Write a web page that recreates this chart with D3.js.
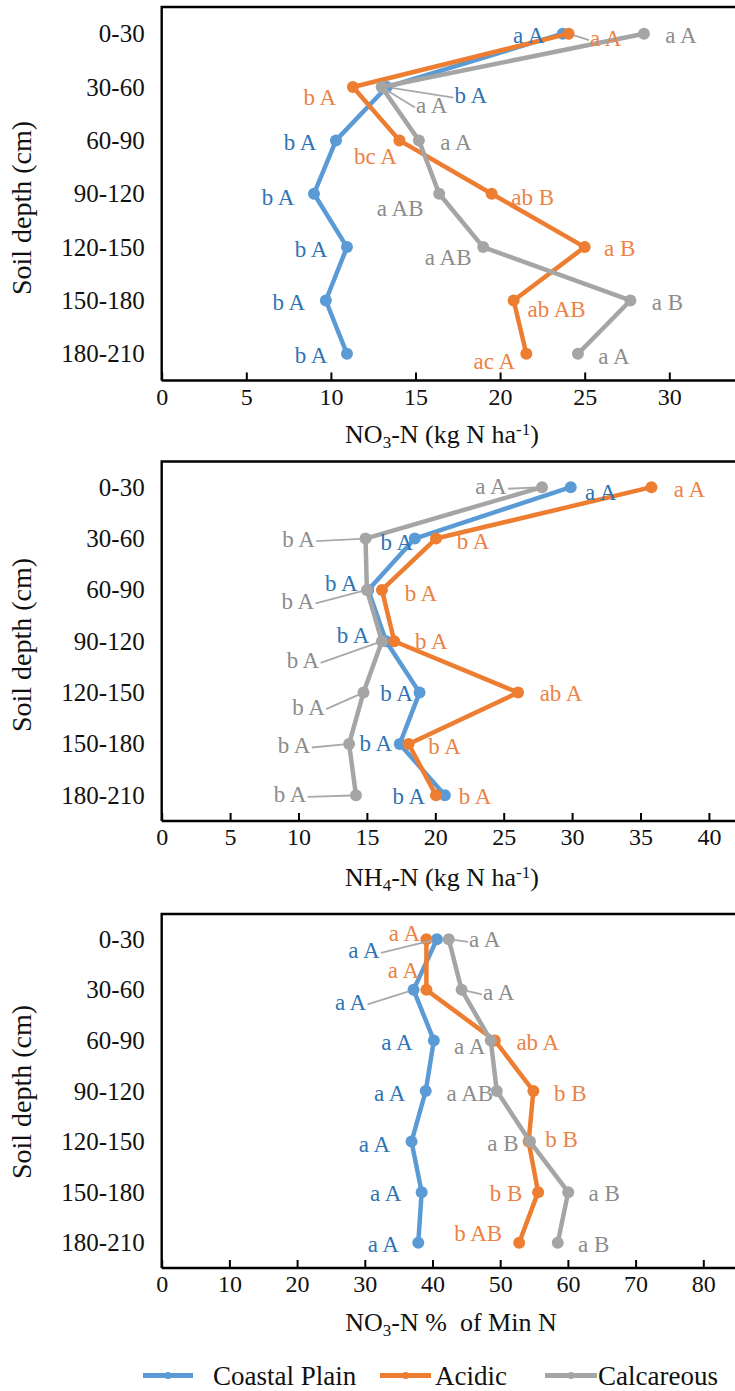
<!DOCTYPE html>
<html>
<head>
<meta charset="utf-8">
<script src="https://cdn.jsdelivr.net/npm/d3@7"></script>
<style>
  html, body { margin: 0; padding: 0; background: #fff; }
</style>
</head>
<body>
<svg id="chart" width="735" height="1391"></svg>
<script>
// Soil depth layers (rows of every panel)
const depths = ["0-30", "30-60", "60-90", "90-120", "120-150", "150-180", "180-210"];
const seriesNames = ["Coastal Plain", "Acidic", "Calcareous"];

// Nitrate, kg N ha-1
const no3Coastal    = [23.7, 13.3, 10.3, 9.0, 10.95, 9.7, 10.95];
const no3Acidic     = [24.05, 11.3, 14.05, 19.5, 25.0, 20.8, 21.55];
const no3Calcareous = [28.5, 13.0, 15.2, 16.4, 19.0, 27.7, 24.6];

// Ammonium, kg N ha-1
const nh4Coastal    = [29.9, 18.5, 15.1, 16.4, 18.85, 17.4, 20.7];
const nh4Acidic     = [35.8, 20.05, 16.1, 17.0, 26.05, 18.05, 20.05];
const nh4Calcareous = [27.8, 14.9, 15.0, 16.1, 14.75, 13.7, 14.2];

// Nitrate share of mineral N, %
const pctCoastal    = [40.65, 37.2, 40.2, 39.0, 36.9, 38.4, 37.9];
const pctAcidic     = [39.1, 39.1, 49.2, 54.9, 54.2, 55.6, 52.8];
const pctCalcareous = [42.4, 44.3, 48.6, 49.5, 54.4, 60.05, 58.5];

// Significance letters
const no3CoastalLetters    = ["a A", "b A", "b A", "b A", "b A", "b A", "b A"];
const no3AcidicLetters     = ["a A", "b A", "bc A", "ab B", "a B", "ab AB", "ac A"];
const no3CalcareousLetters = ["a A", "a A", "a A", "a AB", "a AB", "a B", "a A"];
const nh4CoastalLetters    = ["a A", "b A", "b A", "b A", "b A", "b A", "b A"];
const nh4AcidicLetters     = ["a A", "b A", "b A", "b A", "ab A", "b A", "b A"];
const nh4CalcareousLetters = ["a A", "b A", "b A", "b A", "b A", "b A", "b A"];
const pctCoastalLetters    = ["a A", "a A", "a A", "a A", "a A", "a A", "a A"];
const pctAcidicLetters     = ["a A", "a A", "ab A", "b B", "b B", "b B", "b AB"];
const pctCalcareousLetters = ["a A", "a A", "a A", "a AB", "a B", "a B", "a B"];

// X-axis tick labels
const no3Ticks = [0, 5, 10, 15, 20, 25, 30];
const nh4Ticks = [0, 5, 10, 15, 20, 25, 30, 35, 40];
const pctTicks = [0, 10, 20, 30, 40, 50, 60, 70, 80];

// ---- styling & layout ----
const FONT = "Liberation Serif";
const lineColors  = ["#5B9BD5", "#ED7D31", "#A5A5A5"];
const labelColors = ["#2E74B5", "#EC8246", "#8C8C8C"];
const leaderColor = "#A9A9A9";
const plotLeft = 161.7;

// label placement: offset of each letter label from its point [dx, dy]
const panels = [
  {
    series: [no3Coastal, no3Acidic, no3Calcareous],
    letters: [no3CoastalLetters, no3AcidicLetters, no3CalcareousLetters],
    ticks: no3Ticks, xMax: 35, xRight: 753.9,
    top: 7, bottom: 380.5,
    title: [["NO"], ["3", "sub"], ["-N (kg N ha"], ["-1", "sup"], [")"]],
    titleX: 442, titleY: 435, yTitleY: 208,
    offsets: [
      [[-34, 1], [84, 8], [-36, 2], [-36, 3], [-36, 2], [-37, 1], [-36, 1]],
      [[37, 4], [-33, 10], [-24, 16], [41, 3], [35, 1], [43, 8], [-32, 7]],
      [[37, 1], [50, 18], [37, 2], [-39, 14], [-35, 10], [37, 1], [36, 2]]
    ],
    leaders: [[1], [0], [1]]
  },
  {
    series: [nh4Coastal, nh4Acidic, nh4Calcareous],
    letters: [nh4CoastalLetters, nh4AcidicLetters, nh4CalcareousLetters],
    ticks: nh4Ticks, xMax: 45, xRight: 777.3,
    top: 461.5, bottom: 821,
    title: [["NH"], ["4", "sub"], ["-N (kg N ha"], ["-1", "sup"], [")"]],
    titleX: 442, titleY: 878, yTitleY: 645,
    offsets: [
      [[30, 5], [-18, 3], [-27, -7], [-33, -6], [-23, 0], [-24, -1], [-36, 1]],
      [[38, 2], [37, 2], [39, 3], [37, 0], [43, 0], [36, 2], [39, 1]],
      [[-51, -1], [-67, 0], [-69, 11], [-79, 19], [-55, 14], [-55, 1], [-66, -1]]
    ],
    leaders: [[], [], [0, 1, 2, 3, 4, 5, 6]]
  },
  {
    series: [pctCoastal, pctAcidic, pctCalcareous],
    letters: [pctCoastalLetters, pctAcidicLetters, pctCalcareousLetters],
    ticks: pctTicks, xMax: 90, xRight: 771,
    top: 914, bottom: 1268,
    title: [["NO"], ["3", "sub"], ["-N %  of Min N"]],
    titleX: 451, titleY: 1323, yTitleY: 1092,
    offsets: [
      [[-73, 11], [-63, 12], [-37, 2], [-36, 2], [-37, 2], [-36, 1], [-35, 1]],
      [[-22, -6], [-23, -20], [43, 2], [37, 2], [33, -3], [-32, 1], [-41, -10]],
      [[36, 0], [37, 2], [-21, 6], [-27, 2], [-27, 1], [36, 1], [36, 1]]
    ],
    leaders: [[0, 1], [], [0, 1]]
  }
];

const svg = d3.select("#chart");
svg.append("rect").attr("width", 735).attr("height", 1391).attr("fill", "#fff");

panels.forEach(p => {
  const g = svg.append("g");
  const x = d3.scaleLinear().domain([0, p.xMax]).range([plotLeft, p.xRight]);
  const y = d3.scalePoint().domain(depths).range([p.top, p.bottom]).padding(0.5);

  // x axis with inward ticks
  const ax = g.append("g")
    .attr("transform", `translate(0,${p.bottom})`)
    .call(d3.axisBottom(x).tickValues(p.ticks).tickSizeInner(-8).tickSizeOuter(0).tickPadding(7));
  ax.select(".domain").remove();
  ax.attr("font-family", FONT).attr("font-size", 24);
  ax.selectAll(".tick line").attr("stroke", "#000").attr("stroke-width", 2);
  ax.selectAll(".tick text").attr("fill", "#111")
    .style("font-family", FONT).style("font-size", "24px");

  // y axis category labels
  const ay = g.append("g")
    .attr("transform", `translate(${plotLeft},0)`)
    .call(d3.axisLeft(y).tickSize(0).tickPadding(17));
  ay.select(".domain").remove();
  ay.attr("font-family", FONT).attr("font-size", 25);
  ay.selectAll(".tick text").attr("fill", "#111")
    .style("font-family", FONT).style("font-size", "25px");

  // frame: top border, left and bottom axis lines
  g.append("path")
    .attr("d", `M${plotLeft},${p.bottom}V${p.top}H740M${plotLeft},${p.bottom}H740`)
    .attr("fill", "none").attr("stroke", "#000").attr("stroke-width", 2.4);

  // series lines and markers
  const line = d3.line().x(d => x(d.v)).y(d => y(d.depth));
  p.series.forEach((vals, si) => {
    const pts = vals.map((v, i) => ({ v, depth: depths[i] }));
    g.append("path").datum(pts)
      .attr("d", line).attr("fill", "none")
      .attr("stroke", lineColors[si]).attr("stroke-width", 4.5)
      .attr("stroke-linejoin", "round");
    g.selectAll(null).data(pts).join("circle")
      .attr("cx", d => x(d.v)).attr("cy", d => y(d.depth)).attr("r", 6)
      .attr("fill", lineColors[si]);
  });

  // letter labels, with leader lines where a label sits away from its point
  const leaderLayer = g.append("g");
  p.series.forEach((vals, si) => {
    vals.forEach((v, i) => {
      const px = x(v), py = y(depths[i]);
      const [dx, dy] = p.offsets[si][i];
      const t = g.append("text")
        .attr("x", px + dx).attr("y", py + dy).attr("dy", "0.35em")
        .attr("text-anchor", "middle")
        .style("font-family", FONT).style("font-size", "23px")
        .attr("fill", labelColors[si])
        .text(p.letters[si][i]);
      if (p.leaders[si].includes(i)) {
        const b = t.node().getBBox();
        const cy = b.y + b.height / 2 + 2;
        const sx = px > b.x + b.width ? b.x + b.width + 1 : b.x - 1;
        const ang = Math.atan2(py - cy, px - sx);
        leaderLayer.append("line")
          .attr("x1", sx).attr("y1", cy)
          .attr("x2", px - 5 * Math.cos(ang)).attr("y2", py - 5 * Math.sin(ang))
          .attr("stroke", leaderColor).attr("stroke-width", 1.8);
      }
    });
  });

  // x-axis title with sub/superscripts
  const tt = g.append("text")
    .attr("x", p.titleX).attr("y", p.titleY + 8)
    .attr("text-anchor", "middle").attr("fill", "#111")
    .style("font-family", FONT).style("font-size", "26px")
    .style("white-space", "pre");
  p.title.forEach(([s, kind]) => {
    const ts = tt.append("tspan").text(s);
    if (kind === "sub") ts.style("font-size", "17px").attr("baseline-shift", "-28%");
    if (kind === "sup") ts.style("font-size", "17px").attr("baseline-shift", "45%");
  });

  // y-axis title
  g.append("text")
    .attr("transform", `translate(31,${p.yTitleY}) rotate(-90)`)
    .attr("text-anchor", "middle").attr("fill", "#111")
    .style("font-family", FONT).style("font-size", "28px")
    .text("Soil depth (cm)");
});

// legend
const legendItems = [
  { x1: 143, x2: 193, tx: 213 },
  { x1: 380, x2: 431, tx: 435 },
  { x1: 545, x2: 597, tx: 598 }
];
const legendY = 1375.5;
const lg = svg.append("g");
seriesNames.forEach((name, i) => {
  const it = legendItems[i];
  lg.append("line")
    .attr("x1", it.x1).attr("x2", it.x2).attr("y1", legendY).attr("y2", legendY)
    .attr("stroke", lineColors[i]).attr("stroke-width", 5);
  lg.append("circle")
    .attr("cx", (it.x1 + it.x2) / 2).attr("cy", legendY).attr("r", 3.5)
    .attr("fill", lineColors[i]);
  lg.append("text")
    .attr("x", it.tx).attr("y", legendY + 9)
    .attr("fill", "#111")
    .style("font-family", FONT).style("font-size", "27px")
    .text(name);
});
</script>
</body>
</html>
